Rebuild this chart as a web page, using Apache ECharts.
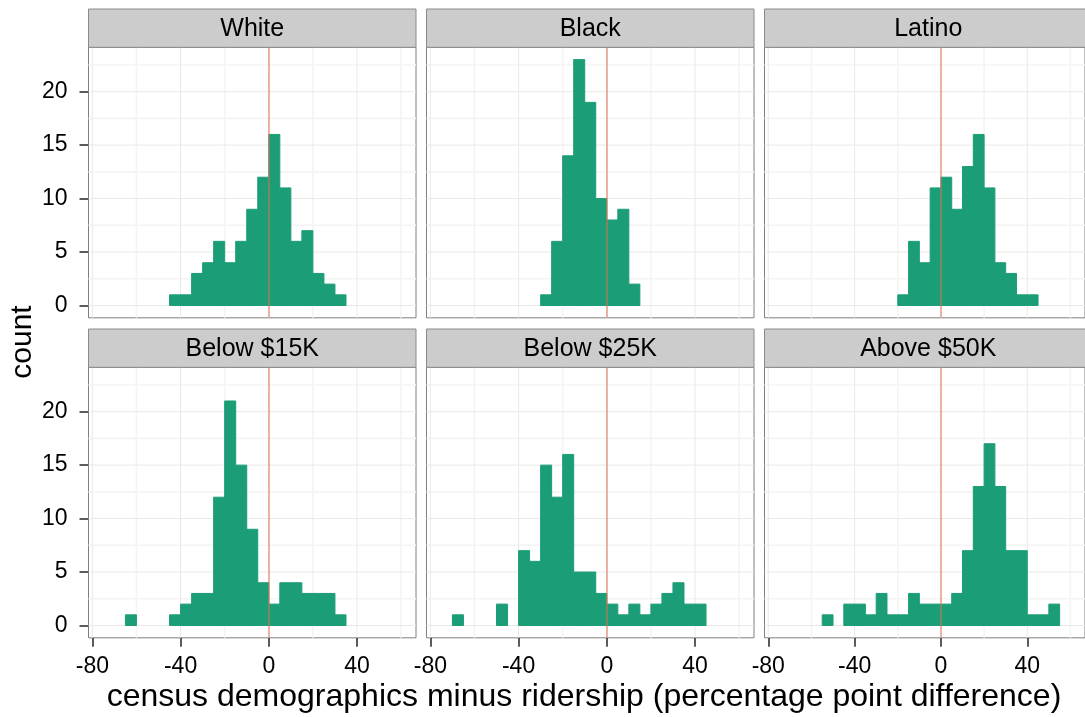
<!DOCTYPE html>
<html><head><meta charset="utf-8">
<script src="https://cdn.jsdelivr.net/npm/echarts@6/dist/echarts.min.js"></script>
<style>html,body{margin:0;padding:0;background:#fff}#c{width:1085px;height:717px}</style>
</head><body><div id="c"></div>
<script>
// ---- data ----
const panelTitles = ['White', 'Black', 'Latino', 'Below $15K', 'Below $25K', 'Above $50K'];
const binEdges = [-75, -70, -65, -60, -55, -50, -45, -40, -35, -30, -25, -20, -15, -10, -5, 0, 5, 10, 15, 20, 25, 30, 35, 40, 45, 50, 55, 60];
const countsWhite    = [0,0,0,0,0,0,1,1,3,4,6,4,6,9,12,16,11,6,7,3,2,1,0,0,0,0,0];
const countsBlack    = [0,0,0,0,0,0,0,0,0,1,6,14,23,19,10,8,9,2,0,0,0,0,0,0,0,0,0];
const countsLatino   = [0,0,0,0,0,0,0,0,0,0,0,1,6,4,11,12,9,13,16,11,4,3,1,1,0,0,0];
const countsBelow15K = [0,0,1,0,0,0,1,2,3,3,12,21,15,9,4,2,4,4,3,3,3,1,0,0,0,0,0];
const countsBelow25K = [0,1,0,0,0,2,0,7,6,15,12,16,5,5,3,2,1,2,1,2,3,4,2,2,0,0,0];
const countsAbove50K = [0,0,0,0,1,0,2,2,1,3,1,1,3,2,2,2,3,7,13,17,13,7,7,1,1,2,0];
const panelCounts = [countsWhite, countsBlack, countsLatino, countsBelow15K, countsBelow25K, countsAbove50K];
const xTicks = [-80, -40, 0, 40];
const xMinorTicks = [-60, -20, 20, 60];
const yTicks = [0, 5, 10, 15, 20];
const yMinorTicks = [2.5, 7.5, 12.5, 17.5, 22.5];
const xRange = [-81.75, 66.75];
const yRange = [-1.15, 24.15];
const refLine = 0;

// ---- layout / style ----
const FONT = '"Liberation Sans", Arial, sans-serif';
const colLefts = [88.5, 426.5, 764.5];
const panelW = 327.5;
const rowTops = [47.3, 367.3];
const panelH = 270.5;
const stripH = 38.3;
const barColor = '#1b9e77';

const grids = [], xAxes = [], yAxes = [], series = [], graphics = [];
for (let i = 0; i < 6; i++) {
  const r = Math.floor(i / 3), c = i % 3;
  const left = colLefts[c], top = rowTops[r];
  grids.push({left: left, top: top, width: panelW, height: panelH, show: true,
    borderColor: '#7f7f7f', borderWidth: 1, backgroundColor: '#fff', containLabel: false});
  const bottomRow = r === 1, leftCol = c === 0;
  xAxes.push({type: 'value', gridIndex: i, min: xRange[0], max: xRange[1], position: 'bottom',
    axisLine: {show: false, onZero: false}, splitLine: {show: false},
    axisTick: {show: bottomRow, length: 9, customValues: xTicks, lineStyle: {color: '#333', width: 1.6}},
    axisLabel: {show: bottomRow, customValues: xTicks, margin: 17, fontSize: 23, color: '#000', fontFamily: FONT}});
  yAxes.push({type: 'value', gridIndex: i, min: yRange[0], max: yRange[1], position: 'left',
    axisLine: {show: false, onZero: false}, splitLine: {show: false},
    axisTick: {show: leftCol, length: 9, customValues: yTicks, lineStyle: {color: '#333', width: 1.6}},
    axisLabel: {show: leftCol, customValues: yTicks, margin: 21, fontSize: 23, color: '#000', fontFamily: FONT}});

  const gridData = [].concat(
    xMinorTicks.map(v => [v, 0, 0]), yMinorTicks.map(v => [v, 1, 0]),
    xTicks.map(v => [v, 0, 1]), yTicks.map(v => [v, 1, 1]));
  series.push({type: 'custom', xAxisIndex: i, yAxisIndex: i, z: 1, silent: true,
    data: gridData,
    renderItem: function (params, api) {
      const v = api.value(0), isY = api.value(1), major = api.value(2);
      const cs = params.coordSys;
      const style = {stroke: major ? '#e9e9e9' : '#f4f4f4', lineWidth: major ? 1 : 1.6};
      if (!isY) {
        const x = api.coord([v, 0])[0];
        if (x <= cs.x + 0.5 || x >= cs.x + cs.width - 0.5) return null;
        return {type: 'line', shape: {x1: x, y1: cs.y, x2: x, y2: cs.y + cs.height}, style: style};
      }
      const y = api.coord([0, v])[1];
      return {type: 'line', shape: {x1: cs.x, y1: y, x2: cs.x + cs.width, y2: y}, style: style};
    }});

  const counts = panelCounts[i];
  const histData = counts.map((n, k) => [binEdges[k], binEdges[k + 1], n]);
  series.push({type: 'custom', name: panelTitles[i], xAxisIndex: i, yAxisIndex: i, z: 2,
    encode: {x: [0, 1], y: 2},
    data: histData,
    renderItem: function (params, api) {
      const n = api.value(2);
      if (!n) return null;
      const p0 = api.coord([api.value(0), n]);
      const p1 = api.coord([api.value(1), 0]);
      return {type: 'rect', shape: {x: p0[0], y: p0[1], width: p1[0] - p0[0], height: p1[1] - p0[1]},
        style: {fill: barColor, stroke: barColor, lineWidth: 1}};
    },
    markLine: {silent: true, symbol: 'none', z: 5, label: {show: false},
      lineStyle: {color: '#e0704f', opacity: 0.5, width: 2, type: 'solid'},
      emphasis: {disabled: true},
      data: [{xAxis: refLine}]}
  });

  // facet strip
  const sTop = top - stripH;
  graphics.push({type: 'rect', shape: {x: left, y: sTop, width: panelW, height: stripH},
    style: {fill: '#cccccc', stroke: '#8a8a8a', lineWidth: 1}, z: 10});
  graphics.push({type: 'text', x: left + panelW / 2, y: sTop + stripH / 2 + 1, z: 11,
    style: {text: panelTitles[i], fill: '#000', font: '25px ' + FONT, textAlign: 'center', textVerticalAlign: 'middle'}});
}
graphics.push({type: 'text', x: 584, y: 697, z: 11,
  style: {text: 'census demographics minus ridership (percentage point difference)', fill: '#000',
    font: '32px ' + FONT, textAlign: 'center', textVerticalAlign: 'middle'}});
graphics.push({type: 'text', x: 23, y: 342, rotation: Math.PI / 2, z: 11,
  style: {text: 'count', fill: '#000', font: '30px ' + FONT, textAlign: 'center', textVerticalAlign: 'middle'}});

const chart = echarts.init(document.getElementById('c'), null, {renderer: 'canvas'});
chart.setOption({
  animation: false,
  backgroundColor: '#fff',
  grid: grids, xAxis: xAxes, yAxis: yAxes, series: series, graphic: graphics
});
</script></body></html>
